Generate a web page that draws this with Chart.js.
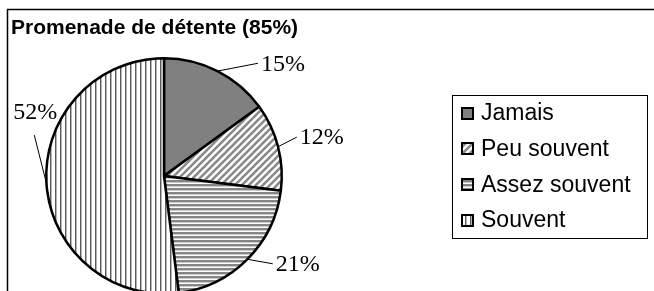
<!DOCTYPE html>
<html>
<head>
<meta charset="utf-8">
<script src="https://cdn.jsdelivr.net/npm/chart.js@4/dist/chart.umd.min.js"></script>
<style>
  html, body { margin: 0; padding: 0; background: #fff; overflow: hidden; width: 654px; height: 291px; }
  #wrap { position: absolute; left: 0; top: 0; width: 654px; height: 400px; }
</style>
</head>
<body>
<div id="wrap"><canvas id="c" width="654" height="400"></canvas></div>
<script>
// ---- data ----
const chartTitle = 'Promenade de détente (85%)';
const categories = ['Jamais', 'Peu souvent', 'Assez souvent', 'Souvent'];
const values = [15, 12, 21, 52];
const valueLabels = ['15%', '12%', '21%', '52%'];

// ---- label placement (style): leader end angle (deg), radius factor, text side ----
const leaderAngles = [-50.2, -16.3, 38.9, 197.5];
const leaderFactors = [1.246, 1.175, 1.187, 1.155];
const leaderSides = ['right', 'right', 'right', 'top'];

function makePattern(kind) {
  const t = document.createElement('canvas');
  const g = t.getContext('2d');
  if (kind === 'solid') {
    t.width = 4; t.height = 4;
    g.fillStyle = '#808080'; g.fillRect(0, 0, 4, 4);
  } else if (kind === 'diag') {
    t.width = 7; t.height = 7;
    g.fillStyle = '#fff'; g.fillRect(0, 0, 7, 7);
    g.strokeStyle = '#8a8a8a'; g.lineWidth = 2.6;
    for (let k = -2; k <= 2; k++) {
      g.beginPath(); g.moveTo(k * 7 - 1, 8); g.lineTo(k * 7 + 8, -1); g.stroke();
    }
  } else if (kind === 'horiz') {
    t.width = 4; t.height = 4;
    g.fillStyle = '#fff'; g.fillRect(0, 0, 4, 4);
    g.fillStyle = '#858585'; g.fillRect(0, 0, 4, 2);
    g.fillStyle = '#c8c8c8'; g.fillRect(0, 2, 4, 1);
  } else if (kind === 'vert') {
    t.width = 5; t.height = 4;
    g.fillStyle = '#fff'; g.fillRect(0, 0, 5, 4);
    g.fillStyle = '#5a5a5a'; g.fillRect(0, 0, 1, 4);
    g.fillStyle = '#b4b4b4'; g.fillRect(1, 0, 1, 4);
  }
  return g.createPattern(t, 'repeat');
}

const ctx0 = document.getElementById('c').getContext('2d');
const fills = [makePattern('solid'), makePattern('diag'), makePattern('horiz'), makePattern('vert')];

const decorPlugin = {
  id: 'decor',
  afterDraw(chart) {
    const ctx = chart.ctx;
    ctx.save();
    // outer frame (top and left visible)
    ctx.strokeStyle = '#000';
    ctx.lineWidth = 1.5;
    ctx.beginPath();
    ctx.moveTo(7.5, 400); ctx.lineTo(7.5, 9.5); ctx.lineTo(660, 9.5);
    ctx.stroke();

    // title
    ctx.fillStyle = '#000';
    ctx.font = 'bold 21px "Liberation Sans", Arial, sans-serif';
    ctx.textBaseline = 'alphabetic';
    ctx.textAlign = 'left';
    ctx.fillText(chartTitle, 11, 34);

    // value labels with leader lines
    const meta = chart.getDatasetMeta(0);
    ctx.font = '24px "Liberation Serif", "Times New Roman", serif';
    meta.data.forEach((arc, i) => {
      const p = arc.getProps(['x', 'y', 'startAngle', 'endAngle', 'outerRadius'], true);
      const mid = (p.startAngle + p.endAngle) / 2;
      const sx = p.x + Math.cos(mid) * p.outerRadius;
      const sy = p.y + Math.sin(mid) * p.outerRadius;
      const a = leaderAngles[i] * Math.PI / 180;
      const ex = p.x + Math.cos(a) * p.outerRadius * leaderFactors[i];
      const ey = p.y + Math.sin(a) * p.outerRadius * leaderFactors[i];
      ctx.strokeStyle = '#000';
      ctx.lineWidth = 1;
      ctx.beginPath(); ctx.moveTo(sx, sy); ctx.lineTo(ex, ey); ctx.stroke();
      ctx.fillStyle = '#000';
      if (leaderSides[i] === 'right') {
        ctx.textAlign = 'left'; ctx.textBaseline = 'middle';
        ctx.fillText(valueLabels[i], ex + 3, ey + 1);
      } else {
        ctx.textAlign = 'center'; ctx.textBaseline = 'middle';
        ctx.fillText(valueLabels[i], ex + 1, ey - 22);
      }
    });

    // legend
    const lx = 452, ly = 95, lw = 195, lh = 143;
    ctx.strokeStyle = '#000'; ctx.lineWidth = 1;
    ctx.strokeRect(lx + 0.5, ly + 0.5, lw, lh);
    ctx.font = '23px "Liberation Sans", Arial, sans-serif';
    ctx.textAlign = 'left'; ctx.textBaseline = 'middle';
    const ds = chart.data.datasets[0];
    chart.data.labels.forEach((lab, i) => {
      const cy = 113 + i * 35.7;
      ctx.fillStyle = ds.backgroundColor[i];
      ctx.fillRect(461, Math.round(cy - 6.5), 13, 13);
      ctx.strokeStyle = '#000'; ctx.lineWidth = 2;
      ctx.strokeRect(462, Math.round(cy - 6.5) + 1, 11, 11);
      ctx.fillStyle = '#000';
      ctx.fillText(lab, 481, cy + 1);
    });
    ctx.restore();
  }
};

new Chart(ctx0, {
  type: 'pie',
  data: {
    labels: categories,
    datasets: [{
      data: values,
      backgroundColor: fills,
      borderColor: '#000',
      borderWidth: 2.5
    }]
  },
  options: {
    responsive: false,
    devicePixelRatio: 1,
    animation: false,
    events: [],
    layout: { padding: { left: 45, right: 371, top: 57, bottom: 105 } },
    plugins: {
      legend: { display: false },
      tooltip: { enabled: false },
      title: { display: false }
    }
  },
  plugins: [decorPlugin]
});
</script>
</body>
</html>
